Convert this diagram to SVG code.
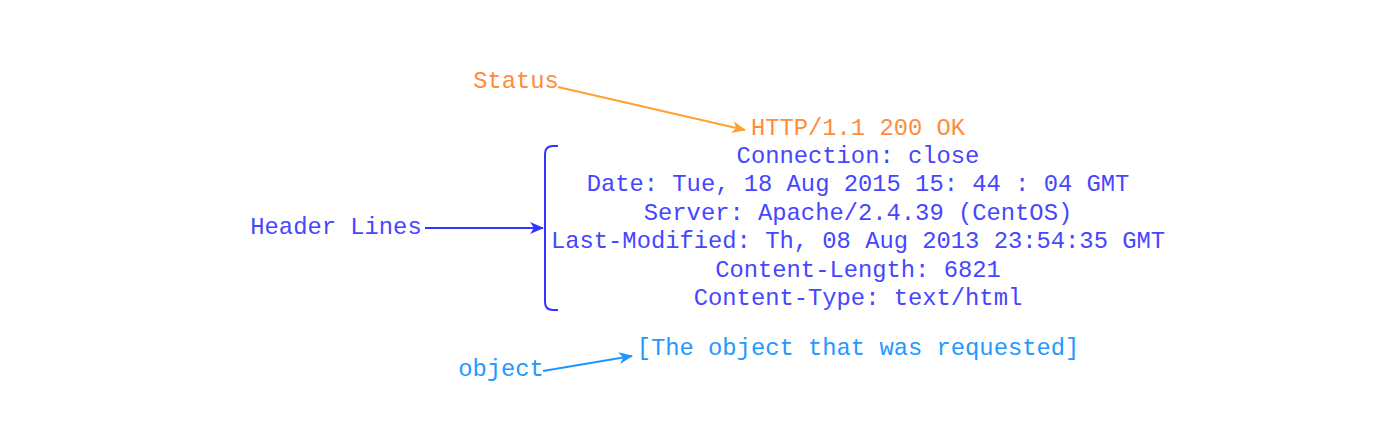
<svg xmlns="http://www.w3.org/2000/svg" width="1400" height="447" viewBox="0 0 1400 447">
<style>
text{font-family:"Liberation Mono","Courier New",monospace;font-size:23.8px;text-anchor:middle}
.o{fill:#FF8C3A}.b{fill:#4646FF}.c{fill:#2299FF}
</style>
<defs>
<marker id="ao" markerWidth="14" markerHeight="12" refX="13" refY="6" orient="auto" markerUnits="userSpaceOnUse"><path d="M0,0 L14,6 L0,12 L4,6 Z" fill="#FFA030"/></marker>
<marker id="ab" markerWidth="14" markerHeight="12" refX="13" refY="6" orient="auto" markerUnits="userSpaceOnUse"><path d="M0,0 L14,6 L0,12 L4,6 Z" fill="#3333FF"/></marker>
<marker id="ac" markerWidth="14" markerHeight="12" refX="13" refY="6" orient="auto" markerUnits="userSpaceOnUse"><path d="M0,0 L14,6 L0,12 L4,6 Z" fill="#1E96FF"/></marker>
</defs>
<rect width="1400" height="447" fill="#fff"/>
<g id="status"><text class="o" x="516" y="88">Status</text></g>
<g id="header-lines"><text class="b" x="336" y="234">Header Lines</text></g>
<g id="object-label"><text class="c" x="501" y="376">object</text></g>
<g id="message">
<text class="o" x="858" y="135">HTTP/1.1 200 OK</text>
<text class="b" x="858" y="163">Connection: close</text>
<text class="b" x="858" y="191">Date: Tue, 18 Aug 2015 15: 44 : 04 GMT</text>
<text class="b" x="858" y="220">Server: Apache/2.4.39 (CentOS)</text>
<text class="b" x="858" y="248">Last-Modified: Th, 08 Aug 2013 23:54:35 GMT</text>
<text class="b" x="858" y="277">Content-Length: 6821</text>
<text class="b" x="858" y="305">Content-Type: text/html</text>
<text class="c" x="858" y="355">[The object that was requested]</text>
</g>
<g id="brace"><path d="M558,146 L553,146 Q545,146 545,154 L545,302 Q545,310 553,310 L558,310" fill="none" stroke="#3333FF" stroke-width="2"/></g>
<g id="connectors" fill="none" stroke-width="2">
<path d="M558,87 L745,130" stroke="#FFA030" marker-end="url(#ao)"/>
<path d="M425,228 L543,228" stroke="#3333FF" marker-end="url(#ab)"/>
<path d="M543,371 L632,356" stroke="#1E96FF" marker-end="url(#ac)"/>
</g>
</svg>
